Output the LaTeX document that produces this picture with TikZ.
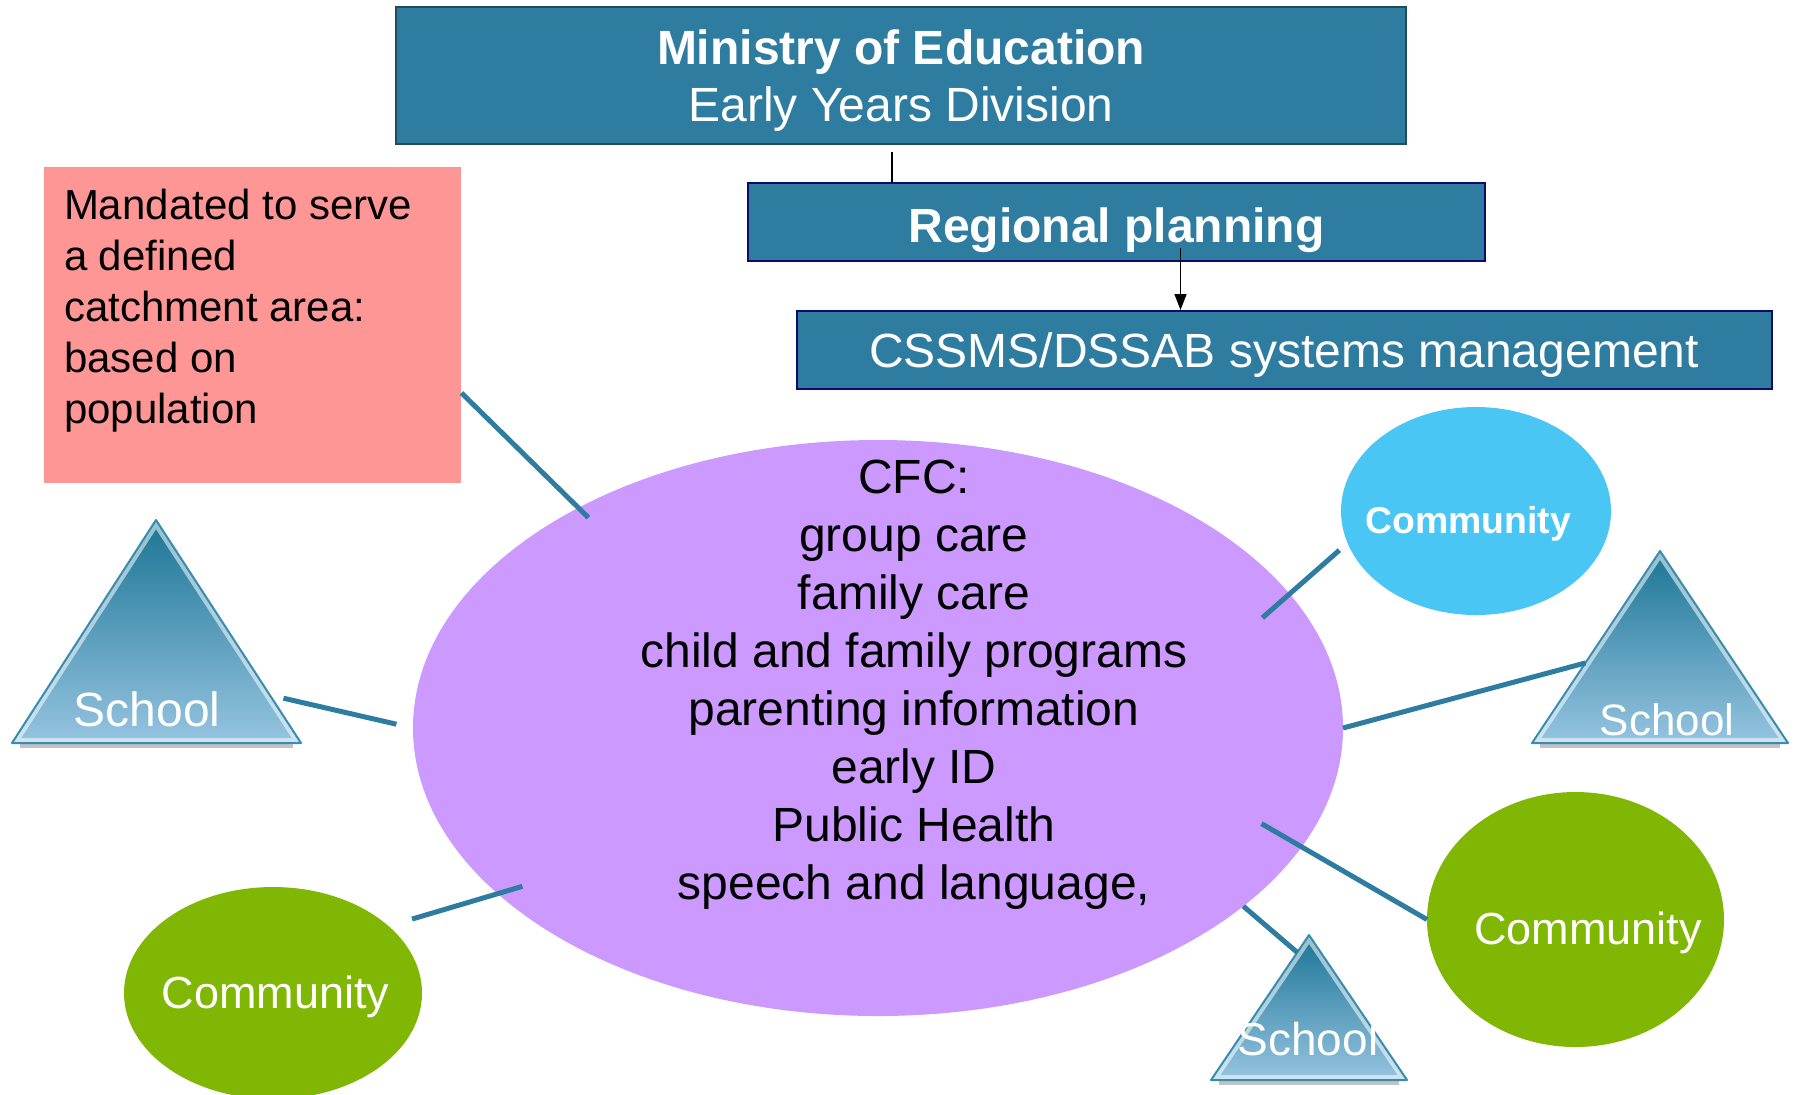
\documentclass[tikz,border=0pt]{standalone}
\usepackage{fontspec}
\setmainfont{Liberation Sans}
\usetikzlibrary{shapes,arrows,arrows.meta,positioning,calc}
\definecolor{boxteal}{RGB}{46,125,160}
\definecolor{slateline}{RGB}{35,75,95}
\definecolor{navyline}{RGB}{12,12,110}
\definecolor{notepink}{RGB}{255,150,150}
\definecolor{cfcpurple}{RGB}{204,153,255}
\definecolor{leafgreen}{RGB}{128,183,5}
\definecolor{skycyan}{RGB}{73,198,243}
\definecolor{tritop}{RGB}{28,117,150}
\definecolor{tribot}{RGB}{150,196,224}
\definecolor{tririm}{RGB}{55,140,175}
\definecolor{groundgray}{RGB}{195,195,195}
\tikzstyle{banner} = [draw=navyline,line width=1pt,fill=boxteal,rectangle,inner sep=0,text=white,font=\fontsize{24}{28.5}\selectfont]
\tikzstyle{blob} = [ellipse,inner sep=0,outer sep=0]
\tikzstyle{tag} = [anchor=base,inner sep=0,text=white]
\tikzstyle{link} = [-,line width=2.5pt,color=boxteal]
\tikzstyle{tie} = [-,line width=0.75pt,color=black]
\tikzstyle{schoolfill} = [top color=tritop,bottom color=tribot]
\tikzstyle{glow} = [line width=5pt,color=white,opacity=0.55]
\tikzstyle{rim} = [line width=1pt,color=tririm,line join=round]
\def \big {\fontsize{24}{29}\selectfont}

\begin{document}
\begin{tikzpicture}[x=0.5pt,y=-0.5pt]
  \useasboundingbox (0,0) rectangle (1797,1094);
  \node[banner,draw=slateline,minimum width=505pt,minimum height=68.5pt] (moe) at (901,75.5) {};
  \node[font=\fontsize{24}{28.5}\selectfont,text=white,align=center,anchor=north,inner sep=0] (moenote) at ([yshift=-11.5pt]moe.north) {\textbf{Ministry of Education}\\Early Years Division};
  \node[banner,minimum width=368.5pt,minimum height=39pt,text height=20pt,text depth=0pt,font=\bfseries\fontsize{24}{28.5}\selectfont] (reg) at (1116.5,222) {Regional planning};
  \node[banner,minimum width=487.5pt,minimum height=39pt,text height=17pt,text depth=0pt] (css) at (1284,350) {CSSMS/DSSAB systems management};
  \draw[tie] ([xshift=-4.5pt,yshift=-3.5pt]moe.south) -- ([xshift=-4.5pt]moe.south |- reg.north);
  \draw[tie,-{Triangle[length=8pt,width=6pt]}] ([xshift=32pt,yshift=7pt]reg.south) -- ([xshift=32pt]reg.south |- css.north);

  \node[rectangle,fill=notepink,minimum width=208.5pt,minimum height=158pt] (mandate) at (252.5,325) {};
  \node[font=\fontsize{21}{25.5}\selectfont,align=left,anchor=north west,inner sep=0] (mandatenote) at ([xshift=10pt,yshift=-11pt]mandate.north west) {Mandated to serve\\a defined\\catchment area:\\based on\\population};

  \node[blob,fill=cfcpurple,minimum width=465pt,minimum height=288pt] (cfc) at (878,728) {};
  \node[blob,fill=skycyan,minimum width=135pt,minimum height=104pt] (ucom) at (1476,511) {};
  \node[blob,fill=leafgreen,minimum width=149pt,minimum height=106pt] (lcom) at (273,993) {};
  \node[blob,fill=leafgreen,minimum width=148.5pt,minimum height=127.5pt] (rcom) at (1575.5,919.5) {};

  \coordinate (ls-a) at (156,520);
  \coordinate (ls-l) at (12,743);
  \coordinate (ls-r) at (301,743);
  \coordinate (rs-a) at (1660,551);
  \coordinate (rs-l) at (1532,743);
  \coordinate (rs-r) at (1788,743);
  \coordinate (bs-a) at (1309,935);
  \coordinate (bs-l) at (1211,1080);
  \coordinate (bs-r) at (1407,1080);
  \foreach \s in {ls,rs,bs} {
    \fill[groundgray] ([xshift=4pt]\s-l) rectangle ([xshift=-4pt,yshift=-2.5pt]\s-r);
    \begin{scope}
      \clip (\s-a) -- (\s-l) -- (\s-r) -- cycle;
      \shade[schoolfill] (\s-a) -- (\s-l) -- (\s-r) -- cycle;
      \draw[glow] (\s-a) -- (\s-l) -- (\s-r) -- cycle;
    \end{scope}
    \draw[rim] (\s-a) -- (\s-l) -- (\s-r) -- cycle;
  }

  \draw[link] (mandate.-18) -- ($(cfc)!0.96!(cfc.144)$);
  \draw[link,shorten <=7pt,shorten >=8.5pt] ($(ls-a)!0.785!(ls-r)$) -- (cfc.west);
  \draw[link] ($(lcom)!1.165!(lcom.28)$) -- ($(cfc)!0.942!(cfc.204)$);
  \draw[link] ($(ucom)!1.08!(ucom.196)$) -- ($(cfc)!0.911!(cfc.16)$);
  \draw[link] ($(rs-a)!0.583!(rs-l)$) -- (cfc.east);
  \draw[link] (rcom.west) -- ($(cfc)!0.889!(cfc.-14)$);
  \draw[link] ($(bs-a)!0.12!(bs-l)$) -- (cfc.-26);

  \node[font=\big,align=center,anchor=north,inner sep=0] (cfcnote) at (914,460) {CFC:\\group care\\family care\\child and family programs\\parenting information\\early ID\\Public Health\\speech and language,};
  \node[tag,font=\bfseries\fontsize{18.7}{22}\selectfont] (ucomnote) at (1468,533) {Community};
  \node[tag,font=\fontsize{22.5}{27}\selectfont] (lcomnote) at (275.5,1008) {Community};
  \node[tag,font=\fontsize{22.5}{27}\selectfont] (rcomnote) at (1588,944) {Community};
  \node[tag,font=\fontsize{24}{28}\selectfont] (ls) at (147,726) {School};
  \node[tag,font=\fontsize{22}{26}\selectfont] (rs) at (1667,735) {School};
  \node[tag,font=\fontsize{23}{27}\selectfont] (bs) at (1308,1055) {School};
\end{tikzpicture}
\end{document}
